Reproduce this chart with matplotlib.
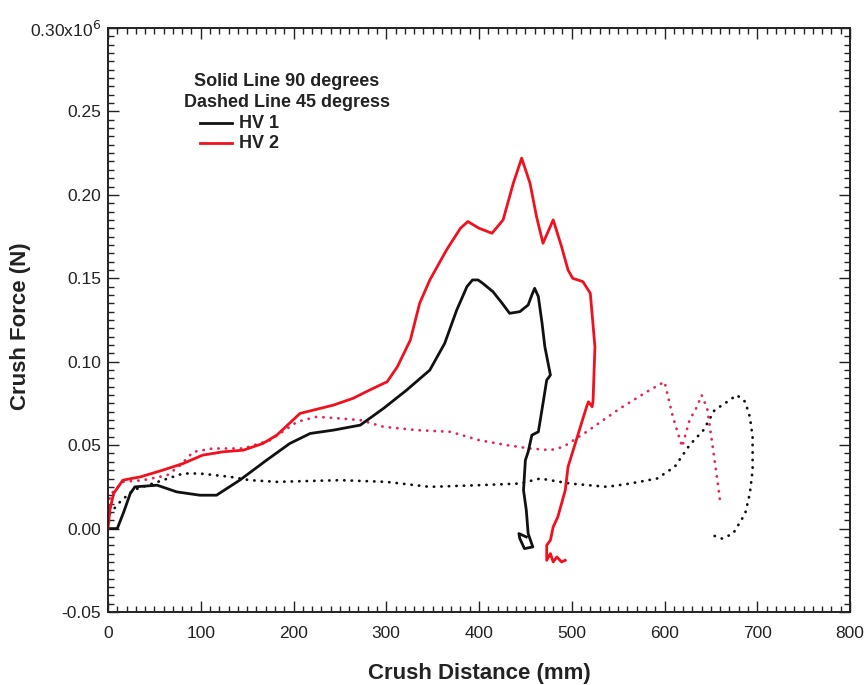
import matplotlib
matplotlib.use("Agg")
import matplotlib.pyplot as plt
from matplotlib.ticker import MultipleLocator, FixedLocator, FixedFormatter

# ---- data (crush distance mm, crush force x10^6 N) ----
hv1_90_x = [0, 10, 17, 24, 29, 53, 74, 99, 117, 142, 171, 196, 207, 218, 243, 272, 297,
            322, 347, 363, 376, 387, 393, 399, 404, 415, 425, 433, 444, 453, 457, 460,
            464, 468, 471, 477, 473, 469, 464, 457, 453, 450, 448, 451, 453, 458, 449,
            444, 443, 451]
hv1_90_y = [0, 0, 0.010, 0.021, 0.025, 0.026, 0.022, 0.020, 0.020, 0.029, 0.041, 0.051,
            0.054, 0.057, 0.059, 0.062, 0.072, 0.083, 0.095, 0.111, 0.131, 0.145, 0.149,
            0.149, 0.147, 0.142, 0.135, 0.129, 0.130, 0.134, 0.140, 0.144, 0.139, 0.123,
            0.109, 0.092, 0.089, 0.075, 0.058, 0.056, 0.046, 0.041, 0.023, 0.011, -0.003,
            -0.011, -0.012, -0.006, -0.003, -0.005]

hv2_90_x = [0, 2, 6, 16, 35, 59, 81, 102, 124, 146, 167, 182, 207, 243, 264, 282, 301,
            312, 326, 336, 347, 365, 380, 388, 400, 414, 426, 437, 446, 455, 462, 469,
            480, 489, 496, 501, 512, 520, 525, 523, 522, 518, 516, 506, 496, 493, 485,
            480, 477, 473, 473, 477, 480, 484, 489, 493]
hv2_90_y = [0, 0.011, 0.021, 0.029, 0.031, 0.035, 0.039, 0.044, 0.046, 0.047, 0.051,
            0.056, 0.069, 0.074, 0.078, 0.083, 0.088, 0.097, 0.113, 0.135, 0.149, 0.167,
            0.180, 0.184, 0.180, 0.177, 0.185, 0.207, 0.222, 0.207, 0.187, 0.171, 0.185,
            0.169, 0.155, 0.150, 0.148, 0.141, 0.109, 0.077, 0.073, 0.076, 0.073, 0.055,
            0.037, 0.023, 0.007, 0.001, -0.007, -0.010, -0.019, -0.015, -0.020, -0.017,
            -0.020, -0.019]

hv2_45_x = [0, 2, 16, 38, 64, 78, 92, 113, 146, 175, 204, 225, 250, 272, 297, 333, 369,
            400, 430, 455, 477, 491, 516, 552, 581, 600, 609, 619, 627, 635, 640, 646,
            652, 658, 660]
hv2_45_y = [0, 0.020, 0.028, 0.029, 0.032, 0.038, 0.046, 0.048, 0.048, 0.053, 0.064,
            0.067, 0.066, 0.065, 0.061, 0.059, 0.058, 0.053, 0.050, 0.048, 0.047, 0.049,
            0.058, 0.072, 0.082, 0.088, 0.067, 0.049, 0.065, 0.073, 0.080, 0.072, 0.049,
            0.025, 0.016]

hv1_45_x = [0, 2, 13, 27, 59, 81, 99, 132, 153, 182, 250, 300, 347, 400, 444, 466, 498,
            538, 563, 592, 611, 627, 642, 654, 665, 678, 687, 692, 695, 695, 692, 687,
            674, 662, 647]
hv1_45_y = [0, 0.009, 0.016, 0.023, 0.029, 0.033, 0.033, 0.031, 0.029, 0.028, 0.029,
            0.028, 0.025, 0.026, 0.027, 0.030, 0.027, 0.025, 0.027, 0.030, 0.037, 0.050,
            0.059, 0.071, 0.075, 0.080, 0.076, 0.067, 0.055, 0.035, 0.021, 0.009, -0.003,
            -0.006, -0.003]

y_ticks = [-0.05, 0.00, 0.05, 0.10, 0.15, 0.20, 0.25, 0.30]
y_tick_labels = ["-0.05", "0.00", "0.05", "0.10", "0.15", "0.20", "0.25", "0.30x10$^6$"]
x_ticks = [0, 100, 200, 300, 400, 500, 600, 700, 800]

RED = "#f0101e"
RED_DOT = "#e02a55"
BLACK = "#111111"

fig = plt.figure(figsize=(8.68, 6.85), dpi=100)
ax = fig.add_axes([108 / 868, 73 / 685, 742 / 868, 584 / 685])

dot = (0, (0.1, 2.6))
ax.plot(hv1_45_x, hv1_45_y, color=BLACK, lw=2.0, linestyle=dot, dash_capstyle="round")
ax.plot(hv2_45_x, hv2_45_y, color=RED_DOT, lw=2.0, linestyle=dot, dash_capstyle="round")
ax.plot(hv1_90_x, hv1_90_y, color=BLACK, lw=2.0, solid_joinstyle="round")
ax.plot(hv2_90_x, hv2_90_y, color=RED, lw=2.0, solid_joinstyle="round")

ax.set_xlim(0, 800)
ax.set_ylim(-0.05, 0.30)
ax.xaxis.set_major_locator(FixedLocator(x_ticks))
ax.xaxis.set_minor_locator(MultipleLocator(10))
ax.yaxis.set_major_locator(FixedLocator(y_ticks))
ax.yaxis.set_major_formatter(FixedFormatter(y_tick_labels))
ax.yaxis.set_minor_locator(MultipleLocator(0.005))

tick_font = ["Liberation Sans Narrow", "Liberation Sans", "DejaVu Sans"]
ax.tick_params(which="both", direction="in", top=True, right=True, width=1.0, color="#222222")
ax.tick_params(which="major", length=8)
ax.tick_params(which="minor", length=4)
ax.tick_params(axis="y", which="major", pad=5, labelsize=12.5)
ax.tick_params(axis="x", which="major", pad=10, labelsize=12.5)
for lab in ax.get_xticklabels() + ax.get_yticklabels():
    lab.set_family(tick_font)
    lab.set_color("#222222")
for sp in ax.spines.values():
    sp.set_linewidth(1.4)
    sp.set_color("#222222")

label_font = ["Liberation Sans", "DejaVu Sans"]
ax.set_xlabel("Crush Distance (mm)", fontsize=16, fontweight="bold", family=label_font,
              color="#222222")
ax.set_ylabel("Crush Force (N)", fontsize=16, fontweight="bold", family=label_font,
              color="#222222")
ax.xaxis.set_label_coords(0.5, -0.106)
ax.yaxis.set_label_coords(-0.118, 0.49)
ax.xaxis.label.set_va("center")
ax.yaxis.label.set_va("center")

# legend block
leg_kw = dict(transform=ax.transAxes, fontsize=13, fontweight="bold", family=label_font,
              color="#222222")
ax.text(0.241, 0.909, "Solid Line 90 degrees", ha="center", va="center", **leg_kw)
ax.text(0.241, 0.873, "Dashed Line 45 degress", ha="center", va="center", **leg_kw)
ax.plot([0.124, 0.167], [0.837, 0.837], color=BLACK, lw=2.0, transform=ax.transAxes)
ax.plot([0.124, 0.167], [0.803, 0.803], color=RED, lw=2.0, transform=ax.transAxes)
ax.text(0.177, 0.837, "HV 1", ha="left", va="center", **leg_kw)
ax.text(0.177, 0.803, "HV 2", ha="left", va="center", **leg_kw)

fig.savefig("out.png", dpi=100)
